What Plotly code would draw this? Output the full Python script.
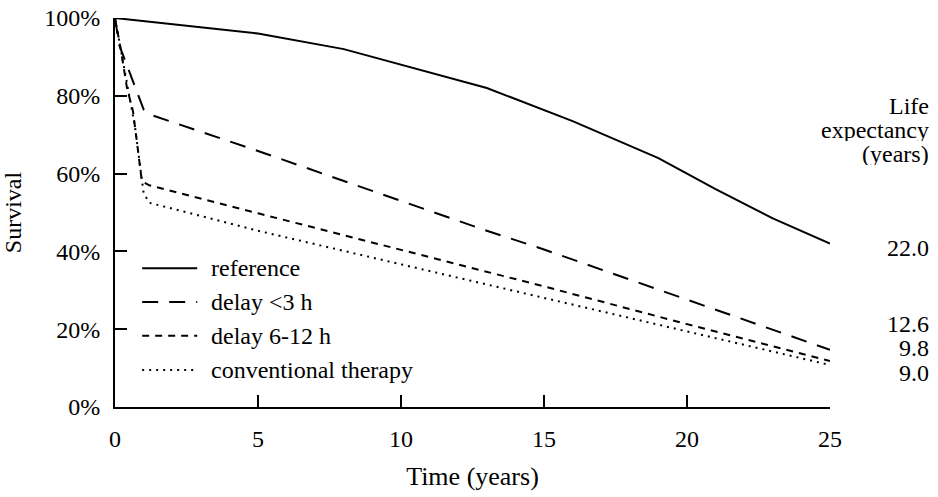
import plotly.graph_objects as go

# Survival curves (years after event, % surviving)
ref_t = [0, 5, 8, 11, 13, 16, 19, 21, 23, 25]
ref_s = [100, 96, 92, 86, 82, 73.5, 64, 56, 48.5, 42]

early_t = [0, 0.15, 1.0, 1.3, 5, 10, 13, 15, 20, 25]
early_s = [100, 93, 76.5, 75, 65.8, 53, 45.3, 40.5, 27.5, 14.7]

late_t = [0, 0.2, 0.42, 0.63, 0.94, 1.2, 5, 10, 15, 20, 25]
late_s = [100, 92, 82, 76, 58, 57, 49.8, 40.5, 31, 21.3, 11.8]

conv_t = [0, 0.2, 0.45, 0.7, 1.0, 1.2, 5, 10, 15, 20, 25]
conv_s = [100, 92, 81, 72, 55, 52.5, 45.3, 36.7, 28.1, 19.5, 10.8]

series_names = ["reference", "delay <3 h", "delay 6-12 h", "conventional therapy"]
life_expectancy = [22.0, 12.6, 9.8, 9.0]
header_lines = ["Life", "expectancy", "(years)"]

x_ticks = [0, 5, 10, 15, 20, 25]
y_ticks = [0, 20, 40, 60, 80, 100]
y_tick_text = [f"{v}%" for v in y_ticks]

FONT = "Liberation Serif"
FS = 24
dashes = ["solid", "16px,11px", "7px,6px", "2px,5px"]
data = [(ref_t, ref_s), (early_t, early_s), (late_t, late_s), (conv_t, conv_s)]

fig = go.Figure()
for (t, s), name, dash in zip(data, series_names, dashes):
    fig.add_trace(go.Scatter(
        x=t, y=s, mode="lines", name=name, showlegend=False,
        line=dict(color="black", width=2, dash=dash, shape="linear"),
    ))

# hand-drawn legend in the lower-left of the plot
leg_rows = [0.357, 0.270, 0.183, 0.095]
for name, dash, yrow in zip(series_names, dashes, leg_rows):
    fig.add_shape(type="line", xref="paper", yref="paper",
                  x0=0.038, x1=0.115, y0=yrow, y1=yrow,
                  line=dict(color="black", width=2, dash=dash))
    fig.add_annotation(xref="paper", yref="paper", x=0.131, y=yrow,
                       text=name, showarrow=False, xanchor="left", yanchor="middle",
                       font=dict(family=FONT, size=FS, color="black"))

# life expectancy column on the right
head_rows = [0.774, 0.712, 0.650]
for line, yrow in zip(header_lines, head_rows):
    fig.add_annotation(xref="paper", yref="paper", x=1.141, y=yrow,
                       text=line, showarrow=False, height=22,
                       xanchor="right", yanchor="middle", align="right",
                       font=dict(family=FONT, size=FS, color="black"))
le_rows = [0.410, 0.214, 0.152, 0.087]
for val, yrow in zip(life_expectancy, le_rows):
    fig.add_annotation(xref="paper", yref="paper", x=1.141, y=yrow,
                       text=f"{val:.1f}", showarrow=False, height=22,
                       xanchor="right", yanchor="middle",
                       font=dict(family=FONT, size=FS, color="black"))

axis_common = dict(showline=True, linecolor="black", linewidth=2,
                   ticks="inside", ticklen=12, tickwidth=2, tickcolor="black",
                   showgrid=False, zeroline=False, automargin=False,
                   tickfont=dict(family=FONT, size=FS, color="black"))

fig.update_xaxes(range=[0, 25], tickvals=x_ticks, ticklabelstandoff=9, **axis_common,
                 title=dict(text="Time (years)", standoff=16,
                            font=dict(family=FONT, size=26, color="black")))
fig.update_yaxes(range=[0, 100], tickvals=y_ticks, ticktext=y_tick_text,
                 ticklabelstandoff=8, **axis_common,
                 title=dict(text="Survival", standoff=18,
                            font=dict(family=FONT, size=FS, color="black")))

fig.update_layout(
    width=938, height=497,
    margin=dict(l=115, r=108, t=18, b=90),
    plot_bgcolor="white", paper_bgcolor="white",
)

fig.write_html("out.html")
